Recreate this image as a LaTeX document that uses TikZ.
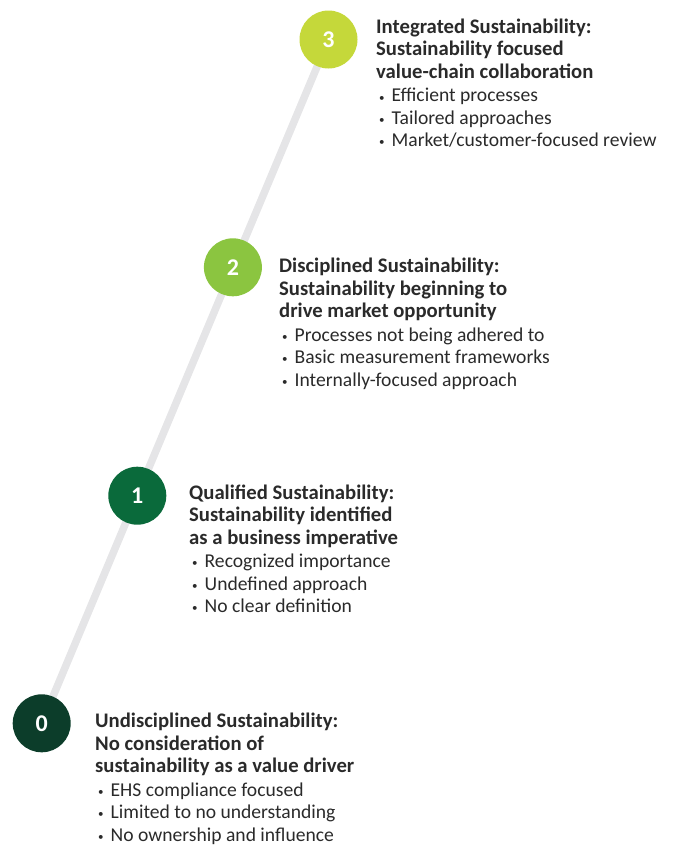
\documentclass[tikz,border=0pt]{standalone}
\usepackage{fontspec}
\setmainfont{Carlito}
\usetikzlibrary{backgrounds}
\definecolor{lvlthree}{HTML}{C5D83A}
\definecolor{lvltwo}{HTML}{8BC540}
\definecolor{lvlone}{HTML}{0A6A3B}
\definecolor{lvlzero}{HTML}{0C3D2A}
\definecolor{trackgrey}{HTML}{E5E5E7}
\definecolor{textgrey}{HTML}{2A2A2A}
% bold heading lines, a little larger than the points
\newcommand{\headline}[1]{{\fontsize{20.7}{22.4}\selectfont\bfseries #1}}
% small round bullet in front of each point
\newcommand{\pointdot}{\hspace*{3pt}\raisebox{0.8pt}{\fontsize{11}{10}\selectfont\textbullet}\hspace{7pt}}
\begin{document}
\begin{tikzpicture}[x=1pt,y=-1pt,
  stagecircle/.style={circle, minimum size=58pt, inner sep=0pt, text=white,
    font=\fontsize{24}{24}\selectfont\bfseries},
  desc/.style={anchor=base west, inner sep=0pt, align=left, text=textgrey,
    font=\fontsize{19.6}{22.4}\selectfont},
  track/.style={draw=trackgrey, line width=7.5pt}]
\useasboundingbox (0,0) rectangle (673,846);

% stage markers
\node[stagecircle, fill=lvlthree] (c3) at (328.5,39.5) {3};
\node[stagecircle, fill=lvltwo]   (c2) at (232.9,267.3) {2};
\node[stagecircle, fill=lvlone]   (c1) at (137.3,495.7) {1};
\node[stagecircle, fill=lvlzero]  (c0) at (41.7,723.3) {0};

% rising track behind the markers
\begin{pgfonlayer}{background}
  \draw[track] (c0.center) -- (c3.center);
\end{pgfonlayer}

% stage descriptions (placed by the baseline of their last line)
\node[desc] (d3) at (376,146.6) {\headline{Integrated Sustainability:}\\
  \headline{Sustainability focused}\\
  \headline{value-chain collaboration}\\[1.3pt]
  \pointdot Efficient processes\\
  \pointdot Tailored approaches\\
  \pointdot Market/customer-focused review};

\node[desc] (d2) at (279,386) {\headline{Disciplined Sustainability:}\\
  \headline{Sustainability beginning to}\\
  \headline{drive market opportunity}\\[1.3pt]
  \pointdot Processes not being adhered to\\
  \pointdot Basic measurement frameworks\\
  \pointdot Internally-focused approach};

\node[desc] (d1) at (189,612.5) {\headline{Qualified Sustainability:}\\
  \headline{Sustainability identified}\\
  \headline{as a business imperative}\\[1.3pt]
  \pointdot Recognized importance\\
  \pointdot Undefined approach\\
  \pointdot No clear definition};

\node[desc] (d0) at (95,841) {\headline{Undisciplined Sustainability:}\\
  \headline{No consideration of}\\
  \headline{sustainability as a value driver}\\[1.3pt]
  \pointdot EHS compliance focused\\
  \pointdot Limited to no understanding\\
  \pointdot No ownership and influence};
\end{tikzpicture}
\end{document}
